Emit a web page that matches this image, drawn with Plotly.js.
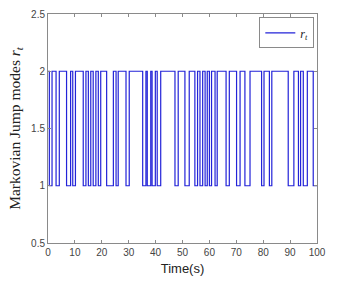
<!DOCTYPE html>
<html>
<head>
<meta charset="utf-8">
<script src="https://cdn.plot.ly/plotly-3.0.1.min.js"></script>
<style>html,body{margin:0;padding:0;background:#fff;}#chart{width:338px;height:287px;}</style>
</head>
<body>
<div id="chart"></div>
<script>
// Switching instants (s) and the mode held from each instant until the next one
const switchTimes = [0, 0.5, 1.5, 3.0, 4.2, 6.9, 8.4, 9.2, 10.2, 13.1, 14.1, 15.0, 15.9, 16.8, 17.8, 18.7, 19.6, 21.8, 24.3, 25.3, 26.1, 29.0, 30.2,
  35.2, 36.4, 36.9, 38.2, 38.7, 39.9, 40.6, 41.9, 47.2, 48.4, 50.9, 52.5, 54.6, 55.6, 56.5, 57.5, 58.4, 59.2, 60.0, 60.8, 62.1, 62.9,
  66.2, 67.4, 70.1, 71.4, 73.2, 75.1, 79.4, 80.3, 82.3, 83.2, 89.3, 91.4, 93.1, 93.9, 94.9, 96.4, 98.6, 100];
const modes = [2, 1, 2, 1, 2, 1, 2, 1, 2, 1, 2, 1, 2, 1, 2, 1, 2, 1, 2, 1, 2, 1, 2,
  1, 2, 1, 2, 1, 2, 1, 2, 1, 2, 1, 2, 1, 2, 1, 2, 1, 2, 1, 2, 1, 2,
  1, 2, 1, 2, 1, 2, 1, 2, 1, 2, 1, 2, 1, 2, 1, 2, 1, 1];
const xTicks = [0, 10, 20, 30, 40, 50, 60, 70, 80, 90, 100];
const yTicks = [0.5, 1, 1.5, 2, 2.5];
const yTickText = ['0.5', '1', '1.5', '2', '2.5'];

const trace = {
  x: switchTimes, y: modes, type: 'scatter', mode: 'lines',
  line: {shape: 'hv', color: '#2323d8', width: 1.2},
  name: '<i>r<sub>t</sub></i>'
};
const axisCommon = {
  showgrid: false, zeroline: false, showline: true, mirror: 'ticks',
  linecolor: '#8a8a8a', linewidth: 1, ticks: 'inside', ticklen: 3, tickcolor: '#8a8a8a',
  tickfont: {family: 'Liberation Sans, Arial', size: 10, color: '#444'}
};
const layout = {
  width: 338, height: 287,
  margin: {l: 48, r: 21, t: 14, b: 44},
  paper_bgcolor: '#fff', plot_bgcolor: '#fff',
  showlegend: true,
  legend: {x: 0.99, y: 0.985, xanchor: 'right', yanchor: 'top', bordercolor: '#8a8a8a', borderwidth: 1,
    bgcolor: '#fff', font: {family: 'Liberation Serif, Times New Roman', size: 12, color: '#222'},
    itemwidth: 30, tracegroupgap: 0},
  xaxis: Object.assign({}, axisCommon, {range: [0, 100], tickvals: xTicks,
    title: {text: 'Time(s)', font: {family: 'Liberation Sans, Arial', size: 13, color: '#222'}, standoff: 6}}),
  yaxis: Object.assign({}, axisCommon, {range: [0.5, 2.5], tickvals: yTicks, ticktext: yTickText,
    title: {text: 'Markovian Jump modes <i>r<sub>t</sub></i>', font: {family: 'Liberation Serif, Times New Roman', size: 15.5, color: '#222'}, standoff: 6}})
};
Plotly.newPlot('chart', [trace], layout, {displayModeBar: false, staticPlot: true});
</script>
</body>
</html>
